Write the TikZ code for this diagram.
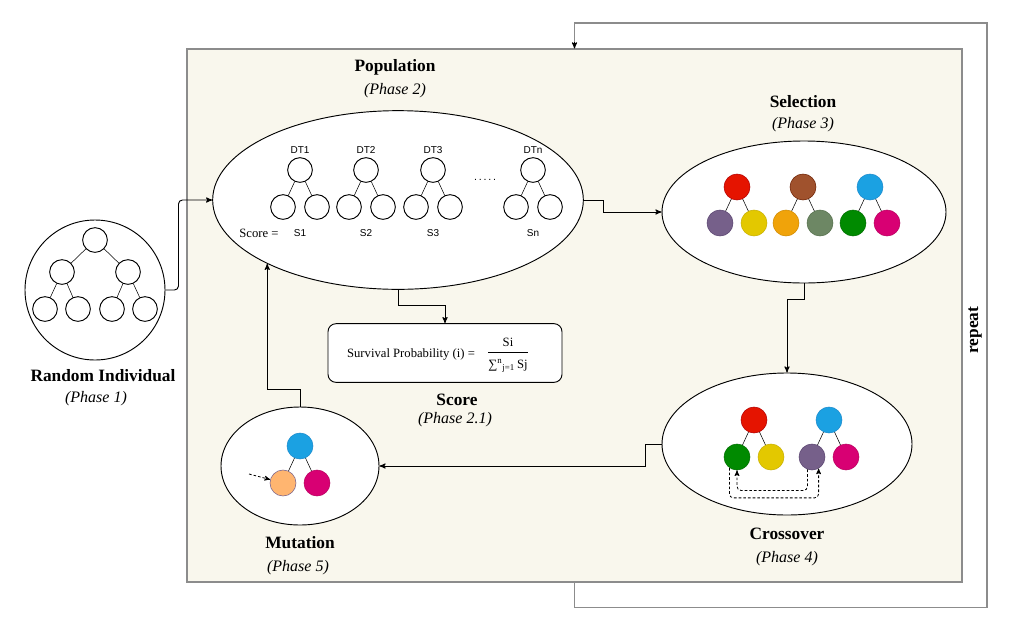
\documentclass[tikz,border=0pt]{standalone}
\usepackage{amsmath}
\usepackage{fontspec}
\setmainfont{Liberation Serif}
\setsansfont{Liberation Sans}
\usepackage{tikz}
\usetikzlibrary{arrows,shapes,positioning,calc}

\definecolor{bgbeige}{HTML}{F9F7ED}
\definecolor{framegray}{HTML}{8C8C8C}
\definecolor{fred}{HTML}{E51400}     \definecolor{sred}{HTML}{B20000}
\definecolor{fbrown}{HTML}{A0522D}   \definecolor{sbrown}{HTML}{6D1F00}
\definecolor{fblue}{HTML}{1BA1E2}    \definecolor{sblue}{HTML}{1B8ACC}
\definecolor{fpurple}{HTML}{76608A}  \definecolor{spurple}{HTML}{5A4470}
\definecolor{fyellow}{HTML}{E3C800}  \definecolor{syellow}{HTML}{C8B000}
\definecolor{forange}{HTML}{F0A30A}  \definecolor{sorange}{HTML}{D08A00}
\definecolor{folive}{HTML}{6D8764}   \definecolor{solive}{HTML}{55704C}
\definecolor{fgreen}{HTML}{008A00}   \definecolor{sgreen}{HTML}{006E00}
\definecolor{fmagenta}{HTML}{D80073} \definecolor{smagenta}{HTML}{B8005F}
\definecolor{fpeach}{HTML}{FFB570}   \definecolor{speach}{HTML}{76608A}

\begin{document}
\begin{tikzpicture}[x=0.75pt,y=-0.75pt,>=stealth',auto]
  \tikzstyle{blob}=[ellipse,draw=black,line width=0.7pt,fill=white,inner sep=0pt]
  \tikzstyle{wnode}=[circle,draw=black,line width=0.7pt,fill=white,minimum size=18.5pt,inner sep=0pt]
  \tikzstyle{cnode}=[circle,line width=0.4pt,minimum size=19.5pt,inner sep=0pt]
  \tikzstyle{flow}=[->,line width=0.7pt]
  \tikzstyle{swap}=[->,line width=0.6pt,dash pattern=on 2pt off 1.5pt,rounded corners=3pt]
  \tikzstyle{title}=[font=\fontsize{13}{15}\selectfont\bfseries]
  \tikzstyle{phase}=[font=\fontsize{12}{14}\selectfont\itshape]
  \tikzstyle{dtlabel}=[font=\sffamily\fontsize{7.5}{9}\selectfont]
  \useasboundingbox (0,0) rectangle (1034,636);

  % the beige working area
  \node [rectangle,draw=framegray,line width=0.8pt,fill=bgbeige,
         minimum width=581.25pt,minimum height=399.75pt] (frame) at (574.5,315.5) {};

  % phase 1
  \node [circle,draw=black,line width=0.7pt,fill=white,minimum size=105pt,inner sep=0pt] (rand) at (95,290) {};
  \node [wnode] (r0) at (95,240) {};
  \node [wnode] (r1) at (62,272) {};
  \node [wnode] (r2) at (128,272) {};
  \node [wnode] (r3) at (45,309) {};
  \node [wnode] (r4) at (78,309) {};
  \node [wnode] (r5) at (112,309) {};
  \node [wnode] (r6) at (145,309) {};
  \draw (r0) -- (r1) (r0) -- (r2) (r1) -- (r3) (r1) -- (r4) (r2) -- (r5) (r2) -- (r6);
  \node [title] (randt) at (103,376) {Random Individual};
  \node [phase] (randp) at (96,399) {(Phase 1)};

  % phase 2
  \node [blob,minimum width=278pt,minimum height=134pt] (pop) at (398,200) {};
  \node [title] (popt) at (395,67) {Population};
  \node [phase] (popp) at (395,91) {(Phase 2)};
  \foreach \x/\n in {300/1, 366/2, 433/3, 533/n} {
    \node [dtlabel] (dt\n) at (\x,150) {DT\n};
    \node [wnode] (d\n) at (\x,170) {};
    \node [wnode] (d\n-a) at (\x-17,207) {};
    \node [wnode] (d\n-b) at (\x+17,207) {};
    \draw (d\n) -- (d\n-a) (d\n) -- (d\n-b);
    \node [dtlabel] (sc\n) at (\x,233) {S\n};
  }
  \node [font=\sffamily\fontsize{8}{9}\selectfont] (dots) at (485,180) {.\,.\,.\,.\,.};
  \node [font=\fontsize{9.5}{11}\selectfont] (scoreeq) at (259,233) {Score =};

  % phase 2.1
  \node [rectangle,rounded corners=6pt,draw=black,line width=0.7pt,fill=white,
         minimum width=175.5pt,minimum height=44pt] (score) at (445,353) {};
  \node [font=\fontsize{9.5}{11}\selectfont] (surv) at (411,354) {Survival Probability (i) =};
  \node [font=\fontsize{9.5}{11}\selectfont] (frac) at (508,355)
    {$\dfrac{\text{Si}\rule[-3pt]{0pt}{1pt}}{\rule{0pt}{11pt}\text{∑}^{\text{n}}{}_{\text{j=1}}\,\text{Sj}}$};
  \node [title] (scoret) at (457,400) {Score};
  \node [phase] (scorep) at (455,420) {(Phase 2.1)};

  % phase 3
  \node [blob,minimum width=213pt,minimum height=106.5pt] (sel) at (804,212) {};
  \node [title] (selt) at (803,102) {Selection};
  \node [phase] (selp) at (803,125) {(Phase 3)};
  \foreach \x/\t/\ca/\cb [count=\i] in {737/red/purple/yellow, 803/brown/orange/olive, 870/blue/green/magenta} {
    \draw (\x,187) -- (\x-17,223) (\x,187) -- (\x+17,223);
    \node [cnode,fill=f\t,draw=s\t] (s\i) at (\x,187) {};
    \node [cnode,fill=f\ca,draw=s\ca] (s\i-a) at (\x-17,223) {};
    \node [cnode,fill=f\cb,draw=s\cb] (s\i-b) at (\x+17,223) {};
  }

  % phase 4
  \node [blob,minimum width=187.5pt,minimum height=106.5pt] (cross) at (787,444) {};
  \node [title] (crosst) at (787,534) {Crossover};
  \node [phase] (crossp) at (787,559) {(Phase 4)};
  \foreach \x/\t/\ca/\cb [count=\i] in {754/red/green/yellow, 829/blue/purple/magenta} {
    \draw (\x,420) -- (\x-17,457) (\x,420) -- (\x+17,457);
    \node [cnode,fill=f\t,draw=s\t] (x\i) at (\x,420) {};
    \node [cnode,fill=f\ca,draw=s\ca] (x\i-a) at (\x-17,457) {};
    \node [cnode,fill=f\cb,draw=s\cb] (x\i-b) at (\x+17,457) {};
  }
  \draw [swap] (x1-a.235) -- ++(0,30) -| (x2-a.300);
  \draw [swap] (x2-a.250) -- ++(0,21) -| (x1-a.south);

  % phase 5
  \node [blob,minimum width=118.5pt,minimum height=88.5pt] (mut) at (300,466) {};
  \node [title] (mutt) at (300,543) {Mutation};
  \node [phase] (mutp) at (298,568) {(Phase 5)};
  \draw (300,446) -- (283,483) (300,446) -- (317,483);
  \node [cnode,fill=fblue,draw=sblue] (m0) at (300,446) {};
  \node [cnode,fill=fpeach,draw=speach] (m1) at (283,483) {};
  \node [cnode,fill=fmagenta,draw=smagenta] (m2) at (317,483) {};
  \coordinate (mhint) at (249,474);
  \draw [->,line width=0.6pt,dash pattern=on 2pt off 1.5pt] (mhint) -- (m1.165);

  % flow between the phases
  \draw [flow,rounded corners=3pt] (rand.east) -- ++(13,0) |- (pop.west);
  \draw [flow] (pop.east) -- ++(20,0) |- (sel.west);
  \draw [flow] (pop.south) -- ++(0,16) -| (score.north);
  \draw [flow] (sel.south) -- ++(0,16) -| (cross.north);
  \draw [flow] (cross.west) -- ++(-16,0) |- (mut.east);
  \draw [flow] (mut.north) -- ++(0,-17) -| (pop.206);

  % repeat loop
  \coordinate (rpt) at (987,23);
  \draw [draw=framegray,line width=0.8pt] (frame.south) -- ++(0,25) -| (rpt) -| ($(frame.north)+(0,-3)$);
  \draw [->,line width=0.7pt] ($(frame.north)+(0,-6)$) -- (frame.north);
  \node [title,rotate=90] (rptt) at (975,330) {repeat};
\end{tikzpicture}
\end{document}
